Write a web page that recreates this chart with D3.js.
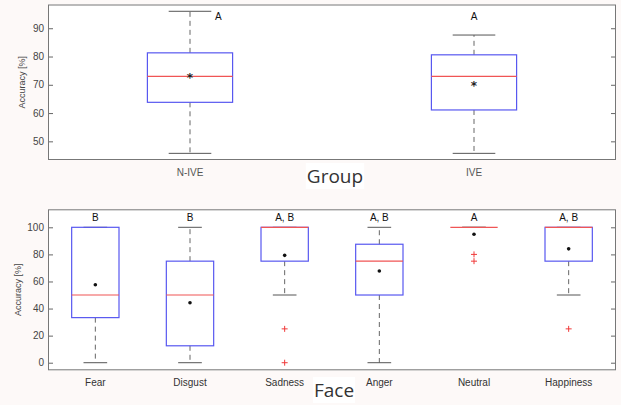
<!DOCTYPE html>
<html><head><meta charset="utf-8">
<script src="https://cdn.jsdelivr.net/npm/d3@7/dist/d3.min.js"></script>
<style>
html,body{margin:0;padding:0;background:#fdf9f8;}
svg{display:block;}
</style></head>
<body>
<script>
// ---- data ----
const groupCats = ["N-IVE", "IVE"];
const groupLow = [45.75, 45.75];
const groupQ1 = [63.8, 61.1];
const groupMed = [73.0, 73.0];
const groupQ3 = [81.3, 80.6];
const groupHigh = [96.0, 87.6];
const groupMean = [72.6, 70.0];
const groupLetters = ["A", "A"];
const groupOutliers = [[], []];
const groupTicks = [50, 60, 70, 80, 90];

const faceCats = ["Fear", "Disgust", "Sadness", "Anger", "Neutral", "Happiness"];
const faceLow = [0, 0, 50, 0, 100, 50];
const faceQ1 = [33.3, 12.5, 75, 50, 100, 75];
const faceMed = [50, 50, 100, 75, 100, 100];
const faceQ3 = [100, 75, 100, 87.5, 100, 100];
const faceHigh = [100, 100, 100, 100, 100, 100];
const faceMean = [57.6, 44.3, 79.3, 67.7, 94.9, 84.1];
const faceLetters = ["B", "B", "A, B", "A, B", "A", "A, B"];
const faceOutliers = [[], [], [25, 0], [], [80, 75], [25]];
const faceTicks = [0, 20, 40, 60, 80, 100];

const W = 621, H = 405;
const svg = d3.select("body").append("svg").attr("width", W).attr("height", H);

function panel(cfg) {
  const {cats, low, q1, med, q3, high, mean, letters, outliers, ticks,
         domain, top, bottom, boxFrac, meanStar, title, titleBox, catColor, letterY} = cfg;
  const left = 48, right = 616;
  const x = d3.scalePoint().domain(cats).range([left, right]).padding(0.5);
  const y = d3.scaleLinear().domain(domain).range([bottom, top]);
  const step = x.step();
  const bw = step * boxFrac;
  const g = svg.append("g");

  g.append("rect").attr("x", left).attr("y", top).attr("width", right - left)
    .attr("height", bottom - top).attr("fill", "#fff");

  // left axis
  const ya = g.append("g").attr("transform", `translate(${left},0)`)
    .call(d3.axisLeft(y).tickValues(ticks).tickSizeInner(-5).tickSizeOuter(0).tickPadding(4));
  ya.select(".domain").remove();
  ya.selectAll("line").attr("stroke", "#666");
  ya.selectAll("text").attr("font-family", "Liberation Sans, Arial, sans-serif")
    .attr("font-size", 10).attr("fill", "#444");
  // right mirror ticks
  const yr = g.append("g").attr("transform", `translate(${right},0)`)
    .call(d3.axisRight(y).tickValues(ticks).tickSizeInner(-5).tickSizeOuter(0).tickFormat(""));
  yr.select(".domain").remove();
  yr.selectAll("line").attr("stroke", "#666");

  // frame
  g.append("rect").attr("x", left + 0.5).attr("y", top + 0.5).attr("width", right - left - 1)
    .attr("height", bottom - top - 1).attr("fill", "none").attr("stroke", "#777").attr("stroke-width", 1);

  cats.forEach((c, i) => {
    const cx = x(c);
    // whiskers dashed
    if (high[i] > q3[i]) {
      g.append("line").attr("x1", cx).attr("x2", cx).attr("y1", y(q3[i])).attr("y2", y(high[i]))
        .attr("stroke", "#666").attr("stroke-dasharray", "5,4");
    }
    if (low[i] < q1[i]) {
      g.append("line").attr("x1", cx).attr("x2", cx).attr("y1", y(q1[i])).attr("y2", y(low[i]))
        .attr("stroke", "#666").attr("stroke-dasharray", "5,4");
    }
    // caps
    [low[i], high[i]].forEach(v => {
      g.append("line").attr("x1", cx - bw / 4).attr("x2", cx + bw / 4)
        .attr("y1", y(v)).attr("y2", y(v)).attr("stroke", "#555");
    });
    // box
    if (q3[i] > q1[i]) {
      g.append("rect").attr("x", cx - bw / 2).attr("y", y(q3[i])).attr("width", bw)
        .attr("height", y(q1[i]) - y(q3[i])).attr("fill", "none")
        .attr("stroke", "#5858f0").attr("stroke-width", 1.2);
    }
    // median
    g.append("line").attr("x1", cx - bw / 2).attr("x2", cx + bw / 2)
      .attr("y1", y(med[i])).attr("y2", y(med[i])).attr("stroke", "#f05555").attr("stroke-width", 1.2);
    // outliers
    outliers[i].forEach(v => {
      g.append("path").attr("d", `M${cx - 3},${y(v)}h6M${cx},${y(v) - 3}v6`)
        .attr("stroke", "#f03a3a").attr("stroke-width", 1);
    });
    // mean
    if (meanStar) {
      g.append("text").attr("x", cx).attr("y", y(mean[i]) + 5).attr("text-anchor", "middle")
        .attr("font-family", "DejaVu Sans, sans-serif").attr("font-size", 12).attr("font-weight", "bold")
        .attr("fill", "#222").text("*");
    } else {
      g.append("circle").attr("cx", cx).attr("cy", y(mean[i])).attr("r", 1.8).attr("fill", "#111");
    }
    // letters
    let lx = cx;
    if (Math.abs(y(high[i]) - letterY) < 8) lx = cx + bw / 4 + 7;
    g.append("text").attr("x", lx).attr("y", letterY + 4).attr("text-anchor", "middle")
      .attr("font-family", "Liberation Sans, Arial, sans-serif").attr("font-size", 10)
      .attr("fill", "#111").text(letters[i]);
    // category label
    g.append("text").attr("x", cx).attr("y", bottom + 16).attr("text-anchor", "middle")
      .attr("font-family", "Liberation Sans, Arial, sans-serif").attr("font-size", 10)
      .attr("fill", catColor).text(c);
  });

  // y title
  const ymid = (top + bottom) / 2;
  g.append("text").attr("transform", `translate(${cfg.ytitleX},${ymid}) rotate(-90)`)
    .attr("text-anchor", "middle").attr("font-family", "Liberation Sans, Arial, sans-serif")
    .attr("font-size", 9).attr("fill", "#444").text("Accuracy [%]");

  // x title with white bg
  const tx = (left + right) / 2 + titleBox.dx;
  const tb = g.append("rect").attr("fill", "#fff");
  const tt = g.append("text").attr("x", tx).attr("y", titleBox.y).attr("text-anchor", "middle")
    .attr("font-family", "Open Sans, sans-serif").attr("font-size", 19).attr("fill", "#333").text(title);
  const bb = tt.node().getBBox();
  tb.attr("x", bb.x - 1).attr("y", bb.y).attr("width", bb.width + 2).attr("height", bb.height);
}

panel({
  cats: groupCats, low: groupLow, q1: groupQ1, med: groupMed, q3: groupQ3, high: groupHigh,
  mean: groupMean, letters: groupLetters, outliers: groupOutliers, ticks: groupTicks,
  domain: [43.4, 98.4], top: 4.5, bottom: 160, boxFrac: 0.3, meanStar: true,
  title: "Group", titleBox: {dx: 3, y: 183}, catColor: "#555", letterY: 15.5, ytitleX: 25
});
panel({
  cats: faceCats, low: faceLow, q1: faceQ1, med: faceMed, q3: faceQ3, high: faceHigh,
  mean: faceMean, letters: faceLetters, outliers: faceOutliers, ticks: faceTicks,
  domain: [-5.6, 113.3], top: 209.3, bottom: 370.3, boxFrac: 0.5, meanStar: false,
  title: "Face", titleBox: {dx: 2, y: 397}, catColor: "#333", letterY: 217, ytitleX: 21
});
</script>
</body></html>
